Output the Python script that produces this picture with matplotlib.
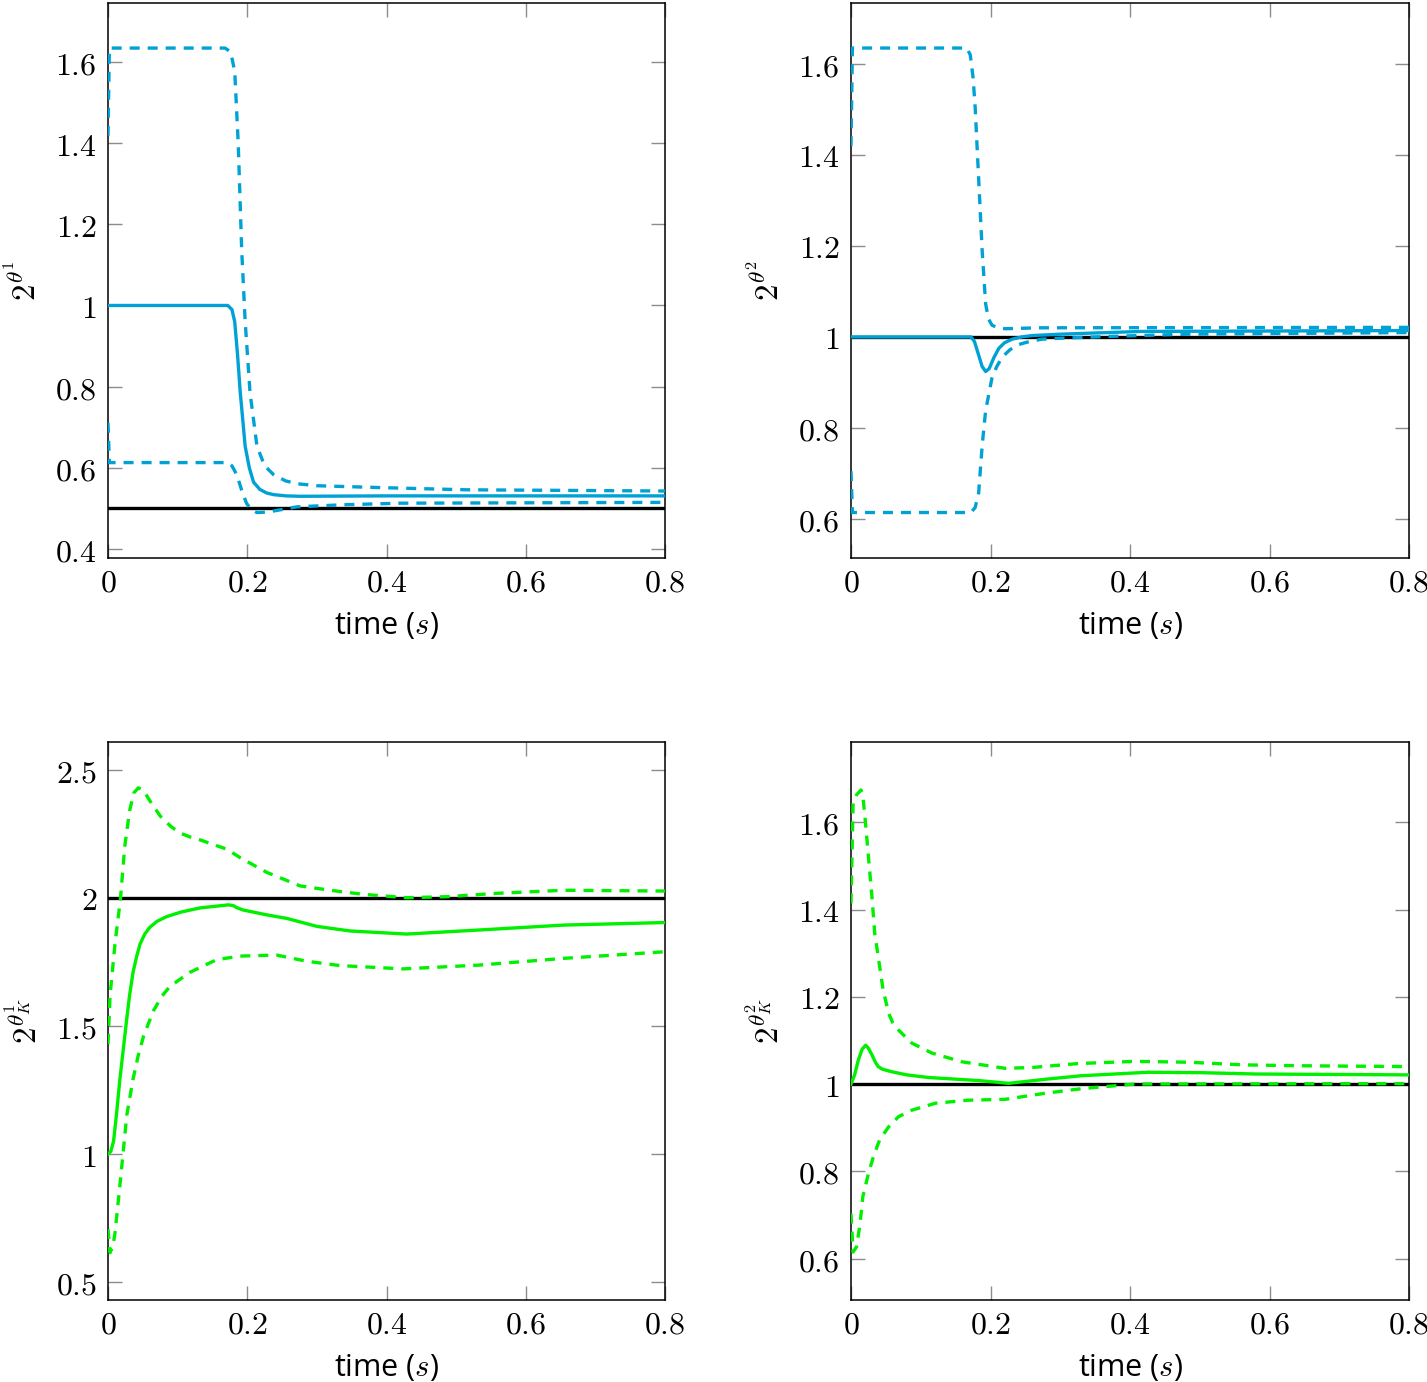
import numpy as np
import matplotlib
matplotlib.use('Agg')
from matplotlib import pyplot as plt
from matplotlib.ticker import FuncFormatter

plt.rcParams['mathtext.fontset'] = 'cm'
plt.rcParams['font.family'] = ['Open Sans', 'DejaVu Sans']

# ---------------------------- data ----------------------------
# theta^1
th1_ref = 0.5
th1_up_t = [0, 0.002, 0.168, 0.176, 0.182, 0.187, 0.192, 0.197, 0.204, 0.214, 0.225, 0.238, 0.255, 0.271, 0.3, 0.4, 0.515, 0.8]
th1_up = [1.418, 1.634, 1.634, 1.625, 1.577, 1.401, 1.137, 0.961, 0.785, 0.653, 0.605, 0.583, 0.568, 0.561, 0.556, 0.551, 0.546, 0.543]
th1_mid_t = [0, 0.172, 0.178, 0.182, 0.186, 0.190, 0.194, 0.197, 0.203, 0.209, 0.218, 0.228, 0.238, 0.256, 0.276, 0.4, 0.8]
th1_mid = [1.0, 1.0, 0.99, 0.96, 0.88, 0.785, 0.71, 0.653, 0.6, 0.565, 0.547, 0.538, 0.534, 0.531, 0.530, 0.531, 0.531]
th1_lo_t = [0, 0.002, 0.172, 0.178, 0.185, 0.192, 0.199, 0.206, 0.214, 0.228, 0.242, 0.271, 0.336, 0.42, 0.8]
th1_lo = [0.711, 0.613, 0.613, 0.605, 0.583, 0.545, 0.5125, 0.497, 0.490, 0.491, 0.495, 0.504, 0.509, 0.513, 0.515]

# theta^2
th2_ref = 1.0
th2_up_t = [0, 0.002, 0.166, 0.171, 0.175, 0.178, 0.183, 0.188, 0.193, 0.197, 0.202, 0.21, 0.221, 0.27, 0.8]
th2_up = [1.419, 1.635, 1.635, 1.62, 1.57, 1.505, 1.348, 1.191, 1.073, 1.04, 1.026, 1.02, 1.018, 1.02, 1.021]
th2_mid_t = [0, 0.172, 0.177, 0.182, 0.188, 0.193, 0.198, 0.205, 0.212, 0.22, 0.231, 0.245, 0.26, 0.3, 0.415, 0.8]
th2_mid = [1.0, 1.0, 0.99, 0.965, 0.935, 0.924, 0.93, 0.955, 0.975, 0.987, 0.995, 1.0, 1.003, 1.006, 1.012, 1.014]
th2_lo_t = [0, 0.002, 0.172, 0.178, 0.183, 0.188, 0.193, 0.202, 0.209, 0.217, 0.228, 0.240, 0.256, 0.274, 0.3, 0.368, 0.483, 0.8]
th2_lo = [0.705, 0.614, 0.614, 0.625, 0.657, 0.760, 0.838, 0.909, 0.935, 0.956, 0.972, 0.983, 0.990, 0.995, 0.997, 1.001, 1.006, 1.0095]

# theta^1_K
k1_ref = 2.0
k1_up_t = [0, 0.003, 0.010, 0.018, 0.024, 0.031, 0.037, 0.0436, 0.051, 0.06, 0.075, 0.09, 0.103, 0.118, 0.132, 0.171, 0.19,
           0.228, 0.276, 0.319, 0.367, 0.429, 0.487, 0.558, 0.654, 0.8]
k1_up = [1.43, 1.62, 1.82, 2.0, 2.2, 2.34, 2.41, 2.43, 2.42, 2.38, 2.32, 2.28, 2.254, 2.238, 2.227, 2.19, 2.157,
         2.10, 2.047, 2.030, 2.014, 2.001, 2.005, 2.018, 2.03, 2.027]
k1_mid_t = [0, 0.004, 0.008, 0.012, 0.017, 0.022, 0.027, 0.031, 0.036, 0.041, 0.046, 0.053, 0.06, 0.07, 0.084, 0.105,
            0.132, 0.173, 0.18, 0.185, 0.194, 0.228, 0.257, 0.3, 0.348, 0.429, 0.534, 0.654, 0.8]
k1_mid = [1.0, 1.01, 1.05, 1.15, 1.29, 1.41, 1.53, 1.62, 1.71, 1.77, 1.82, 1.86, 1.885, 1.908, 1.927, 1.945,
          1.961, 1.973, 1.97, 1.962, 1.953, 1.934, 1.92, 1.889, 1.871, 1.859, 1.875, 1.894, 1.904]
k1_lo_t = [0, 0.003, 0.007, 0.01, 0.017, 0.027, 0.036, 0.043, 0.051, 0.065, 0.077, 0.089, 0.118, 0.156, 0.19, 0.242,
           0.285, 0.333, 0.424, 0.534, 0.654, 0.8]
k1_lo = [0.707, 0.615, 0.64, 0.69, 0.875, 1.152, 1.293, 1.38, 1.46, 1.558, 1.615, 1.655, 1.71, 1.759, 1.773, 1.777,
         1.753, 1.736, 1.723, 1.738, 1.764, 1.79]

# theta^2_K
k2_ref = 1.0
k2_up_t = [0, 0.003, 0.008, 0.0144, 0.017, 0.020, 0.025, 0.030, 0.034, 0.039, 0.046, 0.054, 0.06, 0.068, 0.087, 0.116,
           0.159, 0.221, 0.26, 0.326, 0.407, 0.484, 0.561, 0.638, 0.8]
k2_up = [1.414, 1.644, 1.663, 1.674, 1.66, 1.613, 1.521, 1.43, 1.346, 1.292, 1.216, 1.162, 1.14, 1.124, 1.094, 1.071,
         1.051, 1.036, 1.038, 1.047, 1.052, 1.05, 1.044, 1.042, 1.04]
k2_mid_t = [0, 0.005, 0.0105, 0.016, 0.021, 0.025, 0.030, 0.035, 0.039, 0.045, 0.059, 0.08, 0.111, 0.183, 0.226, 0.279,
            0.33, 0.426, 0.503, 0.58, 0.8]
k2_mid = [1.0, 1.02, 1.055, 1.08, 1.089, 1.082, 1.067, 1.05, 1.04, 1.034, 1.028, 1.021, 1.015, 1.008, 1.0016, 1.011,
          1.019, 1.027, 1.026, 1.023, 1.021]
k2_lo_t = [0, 0.003, 0.008, 0.013, 0.017, 0.025, 0.032, 0.041, 0.054, 0.068, 0.087, 0.121, 0.168, 0.221, 0.279, 0.334,
           0.407, 0.8]
k2_lo = [0.703, 0.615, 0.627, 0.68, 0.742, 0.795, 0.833, 0.872, 0.902, 0.925, 0.940, 0.956, 0.963, 0.965, 0.979, 0.99,
         1.0, 1.001]

x_ticks = [0, 0.2, 0.4, 0.6, 0.8]

BLUE = '#00a2d6'
GREEN = '#00f000'
LW = 2.4
DASH = (3.0, 2.4)

# ---------------------------- figure ----------------------------
fig = plt.figure(figsize=(14.27, 13.82), dpi=100)

W, H = 1427, 1382
def px_axes(x0, y0, x1, y1):
    return fig.add_axes([x0 / W, 1 - y1 / H, (x1 - x0) / W, (y1 - y0) / H])

panels = [
    dict(box=(108, 3, 665, 558), color=BLUE, ref=th1_ref, up=(th1_up_t, th1_up), mid=(th1_mid_t, th1_mid),
         lo=(th1_lo_t, th1_lo), ylim=(0.378, 1.745), yticks=[0.4, 0.6, 0.8, 1.0, 1.2, 1.4, 1.6],
         ylabel=r'$2^{\theta^1}$'),
    dict(box=(851, 3, 1409, 558), color=BLUE, ref=th2_ref, up=(th2_up_t, th2_up), mid=(th2_mid_t, th2_mid),
         lo=(th2_lo_t, th2_lo), ylim=(0.514, 1.734), yticks=[0.6, 0.8, 1.0, 1.2, 1.4, 1.6],
         ylabel=r'$2^{\theta^2}$'),
    dict(box=(108, 742, 665, 1300), color=GREEN, ref=k1_ref, up=(k1_up_t, k1_up), mid=(k1_mid_t, k1_mid),
         lo=(k1_lo_t, k1_lo), ylim=(0.430, 2.609), yticks=[0.5, 1.0, 1.5, 2.0, 2.5],
         ylabel=r'$2^{\theta^1_K}$'),
    dict(box=(851, 742, 1409, 1300), color=GREEN, ref=k2_ref, up=(k2_up_t, k2_up), mid=(k2_mid_t, k2_mid),
         lo=(k2_lo_t, k2_lo), ylim=(0.505, 1.784), yticks=[0.6, 0.8, 1.0, 1.2, 1.4, 1.6],
         ylabel=r'$2^{\theta^2_K}$'),
]

fmt = FuncFormatter(lambda v, p: f'${v:g}$')

for p in panels:
    ax = px_axes(*p['box'])
    ax.axhline(p['ref'], color='black', lw=LW, zorder=2)
    ax.plot(*p['up'], color=p['color'], lw=LW, dashes=DASH, zorder=3)
    ax.plot(*p['lo'], color=p['color'], lw=LW, dashes=DASH, zorder=3)
    ax.plot(*p['mid'], color=p['color'], lw=LW, zorder=4)
    ax.set_xlim(0, 0.8)
    ax.set_ylim(*p['ylim'])
    ax.set_xticks(x_ticks)
    ax.set_yticks(p['yticks'])
    ax.xaxis.set_major_formatter(fmt)
    ax.yaxis.set_major_formatter(fmt)
    ax.tick_params(direction='in', length=10, width=1, color='#8c8c8c', labelsize=23,
                   top=True, right=True, pad=8)
    ax.tick_params(axis='x', pad=6)
    for s in ax.spines.values():
        s.set_linewidth(1.1)
    ax.set_xlabel('time ($s$)', fontsize=22, labelpad=8)
    ax.set_ylabel(p['ylabel'], fontsize=24, labelpad=8)

fig.savefig('out.png', dpi=100)
